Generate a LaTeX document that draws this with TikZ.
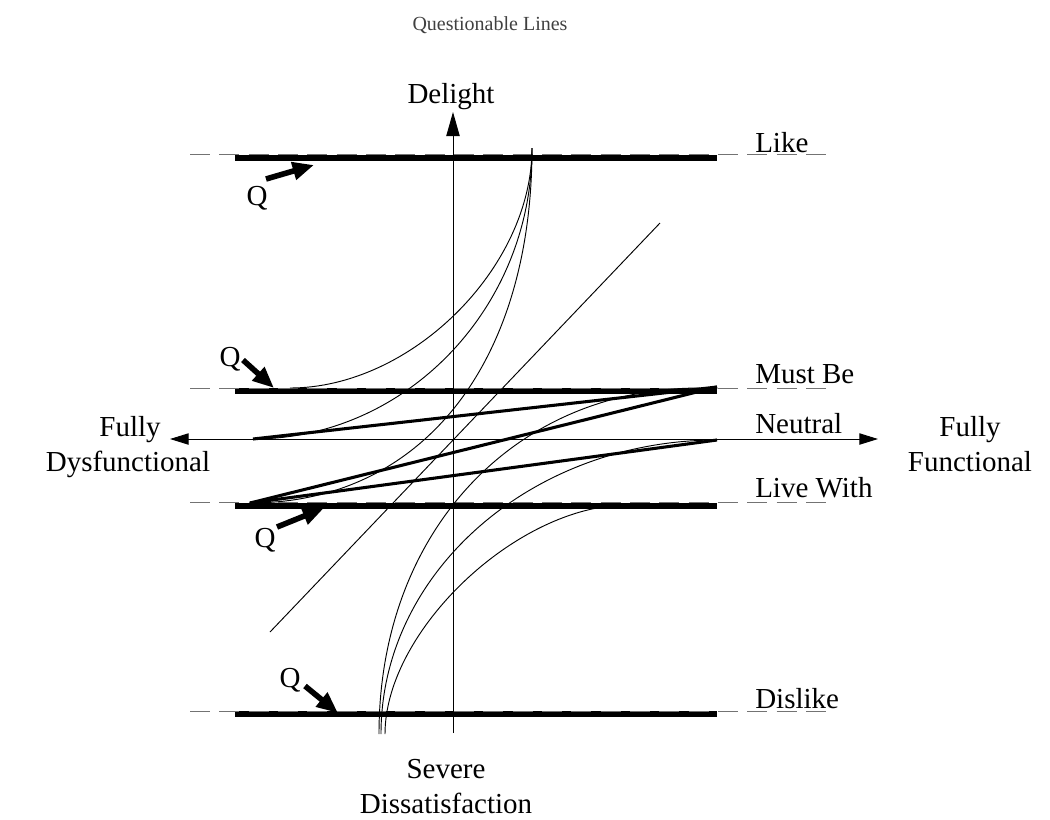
\documentclass[tikz,border=0pt]{standalone}
\usepackage{fontspec}
\setmainfont{Liberation Serif}
\usetikzlibrary{arrows.meta}
\begin{document}
\begin{tikzpicture}[x=0.75pt,y=-0.75pt,
  lbl/.style={font=\fontsize{21.75}{26}\selectfont, inner sep=0pt},
  ttl/.style={font=\fontsize{15}{18}\selectfont, inner sep=0pt, text=black!75},
  levelline/.style={line width=5.2pt},
  guide/.style={draw=black!55, line width=0.7pt, dash pattern=on 15pt off 7pt},
  curveline/.style={line width=0.7pt},
  zig/.style={line width=2.3pt},
  qarrow/.style={line width=4.2pt, -{Triangle[length=16pt,width=13pt]}},
  axisline/.style={line width=0.7pt},
]
\useasboundingbox (0,0) rectangle (1050,819);

% title
\node[ttl, anchor=base] (title) at (490,30) {Questionable Lines};

% level lines
\foreach \n/\yc/\yd in {like/158/154, must/391/388, live/506/502, dis/714/711}{
  \coordinate (\n L) at (235,\yc);
  \coordinate (\n R) at (717,\yc);
  \coordinate (\n gL) at (190,\yd);
  \coordinate (\n gR) at (835,\yd);
  \draw[levelline] (\n L) -- (\n R);
  \draw[guide] (\n gL) -- (\n gR);
}

% axes
\coordinate (hL) at (170,439);
\coordinate (hR) at (878,439);
\coordinate (vB) at (453,733);
\coordinate (vT) at (453,112);
\draw[axisline, {Triangle[length=14pt,width=8.5pt]}-{Triangle[length=14pt,width=8.5pt]}] (hL) -- (hR);
\draw[axisline, -{Triangle[length=18pt,width=10pt]}] (vB) -- (vT);

% curves from the top point
\coordinate (top) at (532,148);
\coordinate (c1e) at (290,388);
\coordinate (c2e) at (253,439);
\coordinate (c3e) at (250,503);
\draw[curveline] (top) .. controls (532,268) and (411,388) .. (c1e);
\draw[curveline] (top) .. controls (532,308) and (406,439) .. (c2e);
\draw[curveline] (top) .. controls (532,360) and (425,503) .. (c3e);

% curves from the bottom point
\coordinate (bA) at (379,734);
\coordinate (bB) at (381,734);
\coordinate (bC) at (385,734);
\coordinate (Ae) at (700,388);
\coordinate (Be) at (717,440);
\coordinate (Ce) at (627,505);
\draw[curveline] (bA) .. controls (379,532) and (514,388) .. (Ae);
\draw[curveline] (bB) .. controls (381,571) and (533,440) .. (Be);
\draw[curveline] (bC) .. controls (385,630) and (518,505) .. (Ce);

% diagonal
\coordinate (d1) at (660,223);
\coordinate (d2) at (270,632);
\draw[curveline] (d1) -- (d2);

% thick zig-zag
\coordinate (zA) at (253,439);
\coordinate (zB) at (717,387);
\coordinate (zC) at (250,503);
\coordinate (zD) at (717,440);
\draw[zig] (zA) -- (zB);
\draw[zig] (zC) -- (zB);
\draw[zig] (zC) -- (zD);

% Q markers
\node[lbl, anchor=base] (q1) at (257,205) {Q};
\node[lbl, anchor=base] (q2) at (230,366) {Q};
\node[lbl, anchor=base] (q3) at (265,547) {Q};
\node[lbl, anchor=base] (q4) at (290,687) {Q};
\coordinate (q1s) at (266,179); \coordinate (q1t) at (314,165);
\coordinate (q2s) at (243,360); \coordinate (q2t) at (274,388);
\coordinate (q3s) at (277,527); \coordinate (q3t) at (324,508);
\coordinate (q4s) at (305,686); \coordinate (q4t) at (338,713);
\draw[qarrow] (q1s) -- (q1t);
\draw[qarrow] (q2s) -- (q2t);
\draw[qarrow] (q3s) -- (q3t);
\draw[qarrow] (q4s) -- (q4t);

% labels
\node[lbl, anchor=base west] (like) at (755,152) {Like};
\node[lbl, anchor=base west] (mustbe) at (755,383) {Must Be};
\node[lbl, anchor=base west] (neutral) at (755,433) {Neutral};
\node[lbl, anchor=base west] (livewith) at (755,497) {Live With};
\node[lbl, anchor=base west] (dislike) at (755,708) {Dislike};
\node[lbl, anchor=base] (delight) at (451,103) {Delight};
\node[lbl, anchor=base] (fully1) at (130,436) {Fully};
\node[lbl, anchor=base] (dysf) at (128,471) {Dysfunctional};
\node[lbl, anchor=base] (fully2) at (970,436) {Fully};
\node[lbl, anchor=base] (func) at (970,471) {Functional};
\node[lbl, anchor=base] (severe) at (446,778) {Severe};
\node[lbl, anchor=base] (dissat) at (446,813) {Dissatisfaction};
\end{tikzpicture}
\end{document}
